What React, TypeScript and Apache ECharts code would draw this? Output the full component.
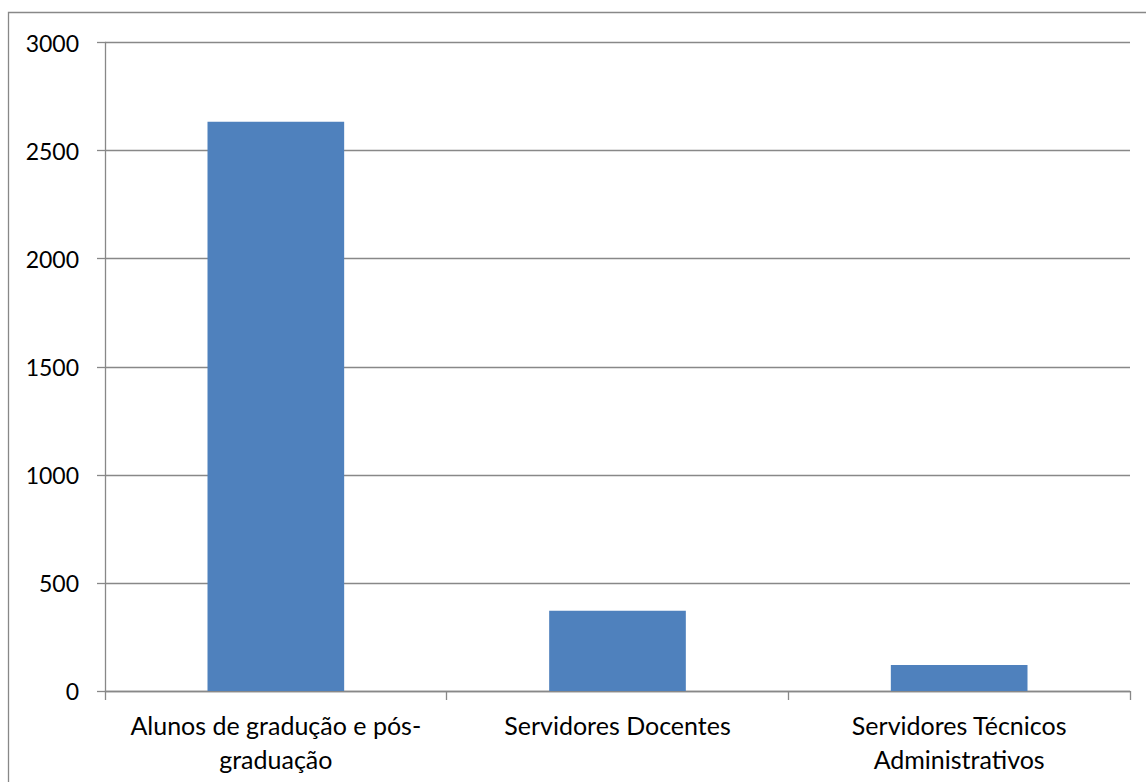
import React, { useEffect, useRef } from "react";
import * as echarts from "echarts";

const categories = [
  "Alunos de gradução e pós-\ngraduação",
  "Servidores Docentes",
  "Servidores Técnicos\nAdministrativos",
];
const values = [2633, 371, 120];
const yMin = 0;
const yMax = 3000;
const yInterval = 500;

const GRAY = "#888888";
const FONT = "Lato";

export default function App() {
  const ref = useRef<HTMLDivElement>(null);
  useEffect(() => {
    if (!ref.current) return;
    const chart = echarts.init(ref.current, null, { renderer: "svg" });
    chart.setOption({
      animation: false,
      backgroundColor: "#ffffff",
      grid: { left: 105, right: 16, top: 42.5, bottom: 91, containLabel: false },
      graphic: [
        {
          type: "polyline",
          shape: { points: [[8.5, 800], [8.5, 12.5], [1150, 12.5]] },
          style: { stroke: GRAY, lineWidth: 1.3, fill: null },
          silent: true,
        },
      ],
      xAxis: {
        type: "category",
        data: categories,
        axisLine: { show: true, lineStyle: { color: GRAY, width: 1.3 } },
        axisTick: { show: true, length: 9, lineStyle: { color: GRAY, width: 1.3 } },
        axisLabel: {
          color: "#000000",
          fontFamily: FONT,
          fontSize: 25,
          lineHeight: 34,
          margin: 17,
          interval: 0,
        },
        splitLine: { show: false },
      },
      yAxis: {
        type: "value",
        min: yMin,
        max: yMax,
        interval: yInterval,
        axisLine: { show: true, lineStyle: { color: GRAY, width: 1.3 } },
        axisTick: { show: true, length: 8, inside: false, lineStyle: { color: GRAY, width: 1.3 } },
        axisLabel: {
          color: "#000000",
          fontFamily: FONT,
          fontSize: 23,
          margin: 26,
          formatter: (v: number) => String(v),
        },
        splitLine: { show: true, lineStyle: { color: GRAY, width: 1.3 } },
      },
      series: [
        {
          type: "bar",
          data: values,
          barWidth: "40%",
          itemStyle: { color: "#4F81BD" },
        },
      ],
    });
    return () => chart.dispose();
  }, []);
  return (
    <div
      ref={ref}
      style={{ position: "absolute", left: 0, top: 0, width: 1146, height: 782 }}
    />
  );
}
